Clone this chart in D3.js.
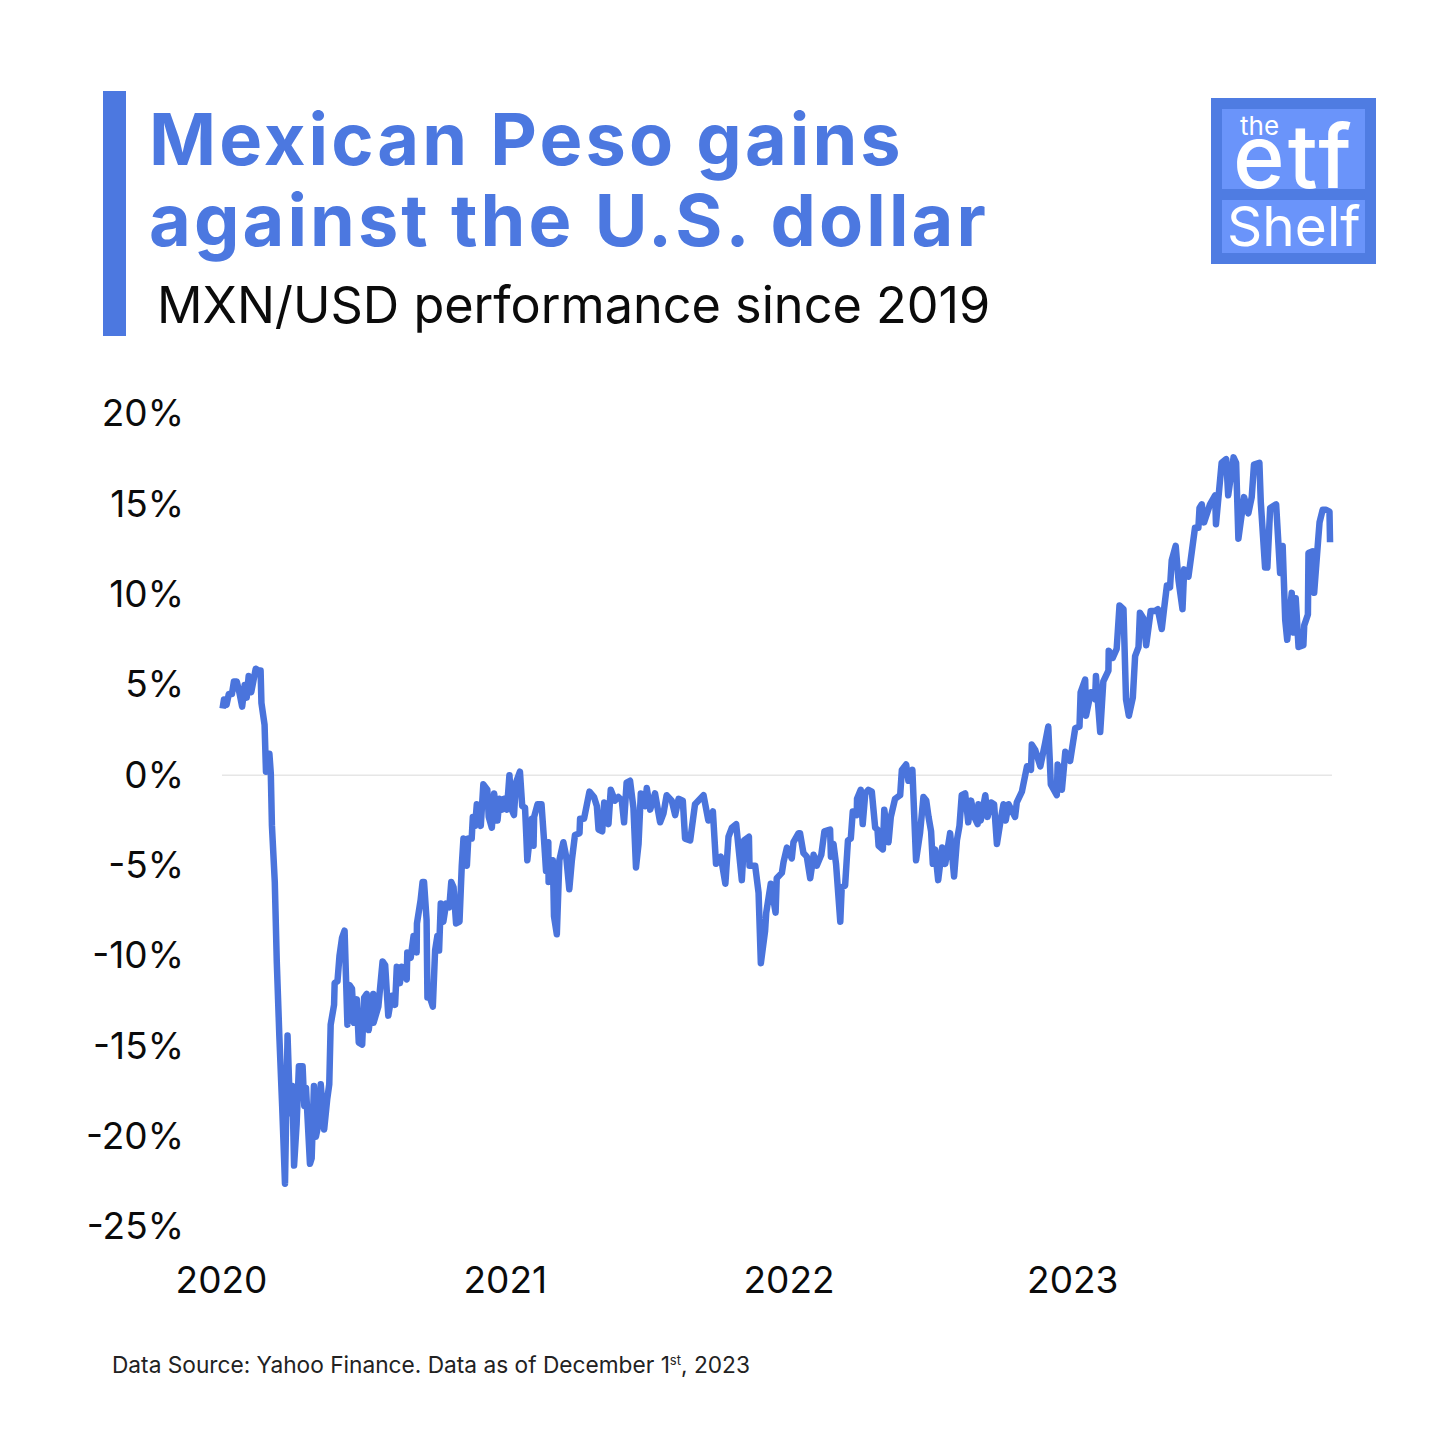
<!DOCTYPE html>
<html>
<head>
<meta charset="utf-8">
<script src="https://cdn.jsdelivr.net/npm/d3@7"></script>
<style>
  html, body { margin: 0; background: #fff; }
  text { font-family: Inter, "Noto Sans", sans-serif; }
</style>
</head>
<body>
<div id="chart"></div>
<script>
const titleLines = ['Mexican Peso gains', 'against the U.S. dollar'];
const subtitle = 'MXN/USD performance since 2019';
const yTicks = [20, 15, 10, 5, 0, -5, -10, -15, -20, -25];
const yearTicks = [2020, 2021, 2022, 2023];

// position of each reading on the time axis, in years since Jan 2020
const yearsSinceStart = [
  .002, .007, .016, .024, .035, .042, .052, .061, .071, .080, .087, .094, .103, .119, .129, .136, .139, .150, .155, .160,
  .167, .172, .176, .186, .193, .202, .212, .222, .231, .240, .248, .254, .263, .271, .284, .290, .296, .310, .316, .324,
  .331, .340, .348, .360, .371, .378, .383, .395, .397, .407, .414, .423, .432, .442, .449, .458, .465, .475, .482, .494,
  .501, .510, .517, .533, .534, .551, .566, .575, .586, .598, .610, .616, .627, .633, .651, .653, .665, .675, .686, .687,
  .700, .707, .712, .721, .724, .733, .743, .751, .759, .765, .771, .780, .790, .801, .808, .816, .825, .837, .845, .851,
  .863, .868, .880, .884, .892, .898, .912, .921, .935, .940, .951, .959, .971, .978, .987, .994, 1.004, 1.013, 1.021, 1.029,
  1.036, 1.050, 1.058, 1.068, 1.072, 1.076, 1.092, 1.098, 1.100, 1.112, 1.126, 1.135, 1.142, 1.150, 1.151, 1.166, 1.170, 1.180, 1.189, 1.203,
  1.213, 1.224, 1.233, 1.244, 1.260, 1.262, 1.276, 1.295, 1.311, 1.321, 1.327, 1.340, 1.347, 1.362, 1.370, 1.385, 1.397, 1.409, 1.417, 1.426,
  1.438, 1.450, 1.459, 1.468, 1.476, 1.491, 1.497, 1.509, 1.526, 1.544, 1.556, 1.567, 1.585, 1.597, 1.609, 1.624, 1.632, 1.650, 1.667, 1.697,
  1.714, 1.730, 1.741, 1.758, 1.774, 1.785, 1.797, 1.812, 1.832, 1.840, 1.857, 1.859, 1.879, 1.891, 1.899, 1.914, 1.918, 1.934, 1.951, 1.955,
  1.973, 1.979, 1.991, 2.008, 2.014, 2.032, 2.037, 2.049, 2.061, 2.073, 2.085, 2.096, 2.112, 2.123, 2.143, 2.146, 2.155, 2.164, 2.179, 2.184,
  2.196, 2.206, 2.216, 2.223, 2.237, 2.238, 2.251, 2.258, 2.267, 2.278, 2.290, 2.302, 2.310, 2.314, 2.329, 2.334, 2.349, 2.357, 2.372, 2.390,
  2.396, 2.411, 2.419, 2.433, 2.446, 2.460, 2.472, 2.482, 2.490, 2.499, 2.505, 2.513, 2.524, 2.538, 2.549, 2.566, 2.580, 2.590, 2.599, 2.607,
  2.619, 2.630, 2.640, 2.651, 2.663, 2.666, 2.674, 2.690, 2.698, 2.710, 2.721, 2.731, 2.745, 2.754, 2.762, 2.772, 2.795, 2.801, 2.819, 2.837,
  2.851, 2.854, 2.866, 2.884, 2.901, 2.912, 2.921, 2.942, 2.945, 2.960, 2.972, 2.989, 3.007, 3.022, 3.026, 3.042, 3.045, 3.062, 3.077, 3.080,
  3.095, 3.106, 3.124, 3.125, 3.139, 3.153, 3.163, 3.177, 3.186, 3.196, 3.210, 3.218, 3.230, 3.235, 3.247, 3.257, 3.273, 3.288, 3.298, 3.312,
  3.320, 3.330, 3.341, 3.347, 3.361, 3.371, 3.385, 3.391, 3.406, 3.418, 3.429, 3.441, 3.445, 3.453, 3.461, 3.482, 3.500, 3.503, 3.523, 3.539,
  3.546, 3.565, 3.574, 3.582, 3.602, 3.617, 3.629, 3.637, 3.656, 3.661, 3.676, 3.684, 3.694, 3.715, 3.729, 3.738, 3.747, 3.754, 3.770, 3.776,
  3.784, 3.794, 3.811, 3.814, 3.827, 3.829, 3.844, 3.849, 3.864, 3.868, 3.879, 3.891, 3.903, 3.905
];

// MXN/USD change in percent
const changePct = [
  3.7, 4.2, 3.9, 4.5, 4.5, 5.2, 5.2, 4.6, 3.8, 5.0, 4.3, 5.5, 4.6, 5.9, 5.8, 5.8, 4.0, 2.8, 0.2, 1.2,
  1.2, 0.1, -2.8, -5.9, -10.3, -14.4, -18.3, -22.6, -14.4, -18.7, -17.2, -21.6, -19.3, -16.1, -16.1, -18.3, -17.3, -21.5, -21.2, -17.2,
  -20.0, -19.3, -17.1, -19.6, -17.9, -17.1, -13.8, -12.7, -11.5, -11.4, -10.0, -9.0, -8.6, -13.8, -11.6, -11.8, -13.7, -12.4, -14.8, -14.9,
  -12.3, -12.1, -14.1, -12.1, -13.7, -12.8, -10.3, -10.5, -13.3, -12.2, -12.7, -10.6, -11.5, -10.6, -11.3, -9.8, -10.1, -8.9, -9.8, -8.2,
  -6.9, -5.9, -5.9, -8.0, -12.3, -12.3, -12.8, -9.7, -8.9, -9.7, -7.1, -8.1, -7.1, -7.3, -5.9, -6.2, -8.2, -8.1, -5.0, -3.5,
  -5.0, -3.5, -3.5, -2.3, -2.8, -1.6, -2.8, -0.5, -0.8, -2.3, -2.9, -1.0, -2.5, -1.3, -1.9, -1.3, -1.9, 0, -1.9, -2.2,
  -0.4, 0.2, -1.7, -1.8, -3.2, -4.7, -2.4, -3.9, -2.3, -1.6, -1.6, -3.6, -5.3, -3.7, -5.9, -4.7, -7.8, -8.8, -4.7, -3.7,
  -4.5, -6.3, -4.7, -3.3, -3.2, -2.4, -2.4, -0.9, -1.2, -1.7, -3.0, -3.1, -1.5, -2.7, -0.8, -1.4, -1.2, -1.4, -2.6, -0.4,
  -0.3, -1.8, -5.1, -3.8, -1.0, -1.7, -0.7, -1.9, -1.0, -2.6, -2.1, -1.1, -1.4, -2.2, -1.3, -1.4, -3.5, -3.6, -1.6, -1.1,
  -2.5, -2.0, -4.9, -4.5, -6.0, -3.4, -2.9, -2.7, -5.8, -3.6, -3.4, -5.0, -5.0, -6.5, -10.4, -8.6, -7.6, -6.0, -7.6, -5.7,
  -5.4, -4.8, -4.0, -4.6, -3.7, -3.2, -3.2, -4.3, -4.5, -5.7, -4.4, -5.0, -4.4, -3.1, -3.0, -4.5, -3.8, -4.9, -8.1, -6.2,
  -6.1, -3.6, -3.5, -2.0, -2.2, -1.3, -0.8, -2.7, -1.0, -0.8, -0.9, -2.9, -3.0, -3.9, -4.1, -1.9, -3.7, -2.3, -1.3, -1.1,
  0.3, 0.6, -0.3, 0.3, -4.7, -3.2, -1.2, -1.4, -2.3, -3.1, -4.9, -4.1, -5.8, -4.0, -4.9, -3.2, -5.6, -3.6, -2.8, -1.1,
  -1.0, -2.6, -1.4, -2.3, -2.7, -1.6, -2.5, -1.1, -2.3, -1.5, -1.6, -3.8, -2.4, -1.6, -2.5, -1.6, -2.3, -1.5, -0.9, 0.5,
  0.3, 1.7, 1.4, 0.5, 1.8, 2.7, -0.5, -1.1, 0.6, -0.8, 1.3, 0.8, 2.6, 2.7, 4.6, 5.3, 3.3, 4.6, 4.2, 5.5,
  2.4, 5.2, 5.8, 6.9, 6.5, 7.0, 9.4, 9.2, 4.2, 3.3, 4.3, 6.6, 7.1, 9.0, 8.7, 7.2, 9.1, 9.1, 9.2, 8.1,
  9.2, 10.5, 10.4, 11.9, 12.7, 10.8, 9.2, 11.4, 11.0, 12.4, 13.7, 13.7, 14.8, 15.0, 14.0, 15.0, 15.5, 13.9, 17.3, 17.5,
  15.5, 17.6, 17.3, 13.1, 15.4, 14.5, 15.4, 17.2, 17.3, 15.1, 11.5, 11.5, 14.8, 15.0, 11.2, 12.7, 8.6, 7.5, 10.1, 7.9,
  9.8, 7.1, 7.2, 8.3, 8.9, 12.3, 12.4, 10.1, 13.2, 14.0, 14.7, 14.7, 14.6, 12.9
];

const size = 1456;
const blue = '#4c78e0';
const lineBlue = '#4a74dc';

const svg = d3.select('#chart').append('svg').attr('width', size).attr('height', size);

const x = d3.scaleLinear().domain([2020, 2024]).range([222, 1357]);
const y = d3.scaleLinear().domain([-25, 20]).range([1227, 414]);

// header
svg.append('rect').attr('x', 103).attr('y', 91).attr('width', 23).attr('height', 245).attr('fill', blue);

svg.selectAll('.title')
  .data(titleLines)
  .enter()
  .append('text')
  .attr('class', 'title')
  .attr('x', 149)
  .attr('y', (d, i) => 165 + i * 81)
  .attr('font-size', 72)
  .attr('font-weight', 700)
  .attr('letter-spacing', 3.1)
  .attr('fill', blue)
  .text((d) => d);

svg.append('text')
  .attr('x', 157)
  .attr('y', 323)
  .attr('font-size', 50.4)
  .attr('fill', '#0b0b0b')
  .text(subtitle);

// logo
const logo = svg.append('g');
logo.append('rect').attr('x', 1211).attr('y', 98).attr('width', 165).attr('height', 166).attr('fill', '#4f7ce2');
logo.append('rect').attr('x', 1222).attr('y', 109).attr('width', 143).attr('height', 80).attr('fill', '#6a94fa');
logo.append('rect').attr('x', 1222).attr('y', 200).attr('width', 143).attr('height', 53).attr('fill', '#6a94fa');
logo.append('text').attr('x', 1240).attr('y', 135).attr('font-size', 26).attr('fill', '#fff').text('the');
logo.append('text').attr('x', 1233).attr('y', 188).attr('font-size', 88).attr('font-weight', 500).attr('letter-spacing', 3).attr('fill', '#fff').text('etf');
logo.append('text').attr('x', 1227).attr('y', 246).attr('font-size', 55).attr('fill', '#fff').text('Shelf');

// axes
const yAxis = svg.append('g')
  .attr('transform', 'translate(184, 0)')
  .call(d3.axisLeft(y).tickValues(yTicks).tickSize(0).tickPadding(0).tickFormat((d) => `${d}%`));
yAxis.select('.domain').remove();
yAxis.selectAll('text').attr('font-size', 37).attr('font-family', 'Inter').attr('fill', '#0b0b0b');

const xAxis = svg.append('g')
  .attr('transform', 'translate(-1, 1267)')
  .call(d3.axisBottom(x).tickValues(yearTicks).tickSize(0).tickPadding(0).tickFormat(d3.format('d')));
xAxis.select('.domain').remove();
xAxis.selectAll('text').attr('font-size', 37).attr('font-family', 'Inter').attr('fill', '#0b0b0b');

// zero line
svg.append('line')
  .attr('x1', 222)
  .attr('x2', 1332)
  .attr('y1', y(0))
  .attr('y2', y(0))
  .attr('stroke', '#e6e6e6')
  .attr('stroke-width', 1.5);

const line = d3.line()
  .x((d, i) => x(2020 + yearsSinceStart[i]))
  .y((d) => y(d));

svg.append('path')
  .datum(changePct)
  .attr('d', line)
  .attr('fill', 'none')
  .attr('stroke', lineBlue)
  .attr('stroke-width', 6.5)
  .attr('stroke-linejoin', 'round');

// footer
const source = svg.append('text')
  .attr('x', 112)
  .attr('y', 1373)
  .attr('font-size', 22.7)
  .attr('fill', '#222');
source.append('tspan').text('Data Source: Yahoo Finance. Data as of December 1');
source.append('tspan').attr('dy', -8).attr('font-size', 13).text('st');
source.append('tspan').attr('dy', 8).text(', 2023');
</script>
</body>
</html>
